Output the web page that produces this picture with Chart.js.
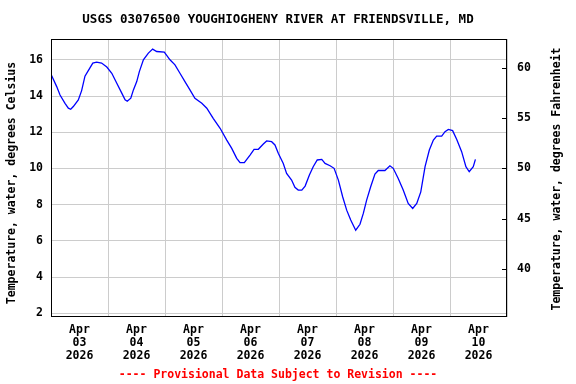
<!DOCTYPE html>
<html>
<head>
<meta charset="utf-8">
<script src="https://cdn.jsdelivr.net/npm/chart.js@4"></script>
<style>
  html, body { margin: 0; padding: 0; background: #fff; }
  #wrap { width: 576px; height: 384px; }
</style>
</head>
<body>
<div id="wrap"><canvas id="tempChart" width="576" height="384"></canvas></div>
<script>
const TITLE = 'USGS 03076500 YOUGHIOGHENY RIVER AT FRIENDSVILLE, MD';
const FOOTER = '---- Provisional Data Subject to Revision ----';
const LEFT_TITLE = 'Temperature, water, degrees Celsius';
const RIGHT_TITLE = 'Temperature, water, degrees Fahrenheit';
const FONT = '"DejaVu Sans Mono", "Liberation Mono", monospace';

// ── Data (hours since Apr 03 2026 00:00, water temp °C) ─────────────
const hours = [
  0, 2.4, 3.8, 5.9, 7.3, 8.3, 9.4, 11.5, 12.9, 14.3, 15.7, 17.6, 19.2, 21.3, 23.5,
  25.6, 27.7, 29.8, 31.2, 32.1, 33.6, 34.7, 36.1, 37.2, 38.9, 41.0, 42.8, 44.5, 47.7,
  50.1, 52.2, 54.3, 56.4, 58.5, 60.6, 63.5, 65.6, 68.3, 71.2, 74.0, 76.1, 78.2, 79.6,
  81.4, 83.8, 85.5, 87.3, 89.4, 90.8, 92.9, 94.3, 95.7, 97.8, 99.2, 101.3, 102.7,
  104.1, 105.6, 107.0, 108.8, 110.4, 112.1, 114.0, 115.4, 117.5, 119.2, 121.0, 122.8,
  124.5, 126.2, 128.3, 130.1, 131.5, 132.9, 134.6, 136.4, 137.8, 140.6, 142.7, 144.1,
  146.2, 148.3, 150.4, 152.3, 154.0, 155.7, 157.5, 159.3, 161.0, 162.4, 164.5, 165.9,
  167.3, 169.1, 170.8, 172.9, 174.7, 176.1, 177.8, 178.7
];
const tempC = [
  15.2, 14.52, 14.06, 13.60, 13.33, 13.27, 13.42, 13.79, 14.3, 15.1, 15.4, 15.82, 15.87, 15.82, 15.60,
  15.26, 14.71, 14.16, 13.79, 13.71, 13.88, 14.34, 14.80, 15.35, 16.0, 16.37, 16.59, 16.46, 16.42,
  16.0, 15.72, 15.26, 14.80, 14.34, 13.88, 13.60, 13.33, 12.77, 12.22, 11.57, 11.11, 10.56, 10.32,
  10.32, 10.74, 11.06, 11.06, 11.35, 11.52, 11.48, 11.30, 10.84, 10.28, 9.73, 9.36, 8.96,
  8.81, 8.81, 9.03, 9.64, 10.10, 10.47, 10.50, 10.28, 10.15, 10.01, 9.36, 8.44,
  7.70, 7.15, 6.59, 6.92, 7.52, 8.25, 8.99, 9.69, 9.89, 9.89, 10.15, 10.01,
  9.45, 8.81, 8.07, 7.79, 8.07, 8.71, 10.10, 11.02, 11.57, 11.79, 11.79, 12.03,
  12.16, 12.09, 11.61, 10.93, 10.10, 9.82, 10.10, 10.50
];

const dayLabels = [
  ['Apr', '03', '2026'], ['Apr', '04', '2026'], ['Apr', '05', '2026'], ['Apr', '06', '2026'],
  ['Apr', '07', '2026'], ['Apr', '08', '2026'], ['Apr', '09', '2026'], ['Apr', '10', '2026']
];

const yMinC = 1.8, yMaxC = 17.15;
const toF = c => c * 1.8 + 32;

// ── Frame, inward F ticks, titles ───────────────────────────────────
const decorations = {
  id: 'decorations',
  afterDraw(chart) {
    const { ctx, chartArea: a, scales } = chart;
    ctx.save();
    ctx.strokeStyle = '#000';
    ctx.lineWidth = 1;
    ctx.strokeRect(a.left + 0.5, a.top + 0.5, a.width - 1, a.height - 1);

    scales.yF.ticks.forEach(t => {
      const y = Math.round(scales.yF.getPixelForValue(t.value)) + 0.5;
      ctx.beginPath();
      ctx.moveTo(a.right - 5, y);
      ctx.lineTo(a.right, y);
      ctx.stroke();
    });

    const cx = (a.left + a.right) / 2 - 1;
    ctx.fillStyle = '#000';
    ctx.textAlign = 'center';
    ctx.textBaseline = 'middle';
    ctx.font = `bold 12.5px ${FONT}`;
    ctx.fillText(TITLE, cx, 20);

    ctx.font = `bold 11.5px ${FONT}`;
    ctx.fillStyle = '#ff0000';
    ctx.fillText(FOOTER, cx, 375);

    ctx.fillStyle = '#000';
    ctx.translate(12, 183);
    ctx.rotate(-Math.PI / 2);
    ctx.fillText(LEFT_TITLE, 0, 0);
    ctx.setTransform(1, 0, 0, 1, 0, 0);
    ctx.translate(557, 179);
    ctx.rotate(-Math.PI / 2);
    ctx.fillText(RIGHT_TITLE, 0, 0);
    ctx.restore();
  }
};

const tickFont = { family: FONT, size: 11.5, weight: 'bold', lineHeight: '13px' };

new Chart(document.getElementById('tempChart'), {
  type: 'line',
  data: {
    datasets: [{
      data: hours.map((h, i) => ({ x: h, y: tempC[i] })),
      borderColor: '#0000ff',
      borderWidth: 1.3,
      pointRadius: 0,
      tension: 0,
      fill: false
    }]
  },
  options: {
    responsive: false,
    animation: false,
    devicePixelRatio: 1,
    layout: { padding: { top: 39, left: 0, right: 0, bottom: 0 } },
    plugins: { legend: { display: false }, tooltip: { enabled: false } },
    scales: {
      x: {
        type: 'linear',
        min: 0,
        max: 192,
        afterFit: s => { s.height = 67; },
        grid: { color: '#cccccc', drawTicks: false },
        border: { display: false },
        ticks: {
          stepSize: 24,
          autoSkip: false,
          maxRotation: 0,
          padding: 7,
          labelOffset: 28.5,
          color: '#000',
          font: tickFont,
          callback: v => dayLabels[Math.round(v / 24)] || ''
        }
      },
      y: {
        position: 'left',
        min: yMinC,
        max: yMaxC,
        afterFit: s => { s.width = 51; },
        grid: { color: '#cccccc', drawTicks: false },
        border: { display: false },
        ticks: { stepSize: 2, includeBounds: false, padding: 8, color: '#000', font: tickFont }
      },
      yF: {
        position: 'right',
        min: toF(yMinC),
        max: toF(yMaxC),
        afterFit: s => { s.width = 69; },
        grid: { display: false, drawTicks: false },
        border: { display: false },
        ticks: { stepSize: 5, includeBounds: false, padding: 10, color: '#000', font: tickFont }
      }
    }
  },
  plugins: [decorations]
});
</script>
</body>
</html>
